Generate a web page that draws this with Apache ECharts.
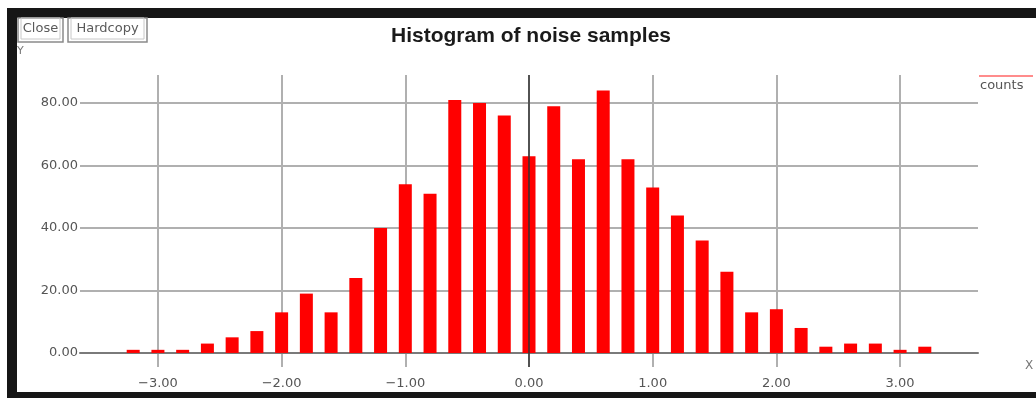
<!DOCTYPE html>
<html>
<head>
<meta charset="utf-8">
<script src="https://cdn.jsdelivr.net/npm/echarts@6/dist/echarts.min.js"></script>
<style>
  html, body { margin: 0; padding: 0; background: #fff; }
  #chart { width: 1036px; height: 398px; }
</style>
</head>
<body>
<div id="chart"></div>
<script>
// bin centres of the histogram and their counts
const binCenters = [-3.2, -3.0, -2.8, -2.6, -2.4, -2.2, -2.0, -1.8, -1.6, -1.4, -1.2,
  -1.0, -0.8, -0.6, -0.4, -0.2, 0.0, 0.2, 0.4, 0.6, 0.8,
  1.0, 1.2, 1.4, 1.6, 1.8, 2.0, 2.2, 2.4, 2.6, 2.8, 3.0, 3.2];
const counts = [1, 1, 1, 3, 5, 7, 13, 19, 13, 24, 40,
  54, 51, 81, 80, 76, 63, 79, 62, 84, 62,
  53, 44, 36, 26, 13, 14, 8, 2, 3, 3, 1, 2];
const xTicks = [-3, -2, -1, 0, 1, 2, 3];
const yTicks = [0, 20, 40, 60, 80];

const LABEL_FONT = "DejaVu Sans";
const GRID_COLOR = "#b0b0b0";

const chart = echarts.init(document.getElementById("chart"));

function fmt(v) {
  const s = Math.abs(v).toFixed(2);
  return v < 0 ? "\u2212" + s : s;
}

// little push buttons in the top-left corner
function button(x, w, label) {
  return [
    { type: "rect", shape: { x: x, y: 18, width: w, height: 24 }, style: { fill: "#fff", stroke: "#8a8a8a", lineWidth: 1.5 } },
    { type: "rect", shape: { x: x + 3, y: 18, width: w - 6, height: 21 }, style: { fill: "none", stroke: "#c8c8c8", lineWidth: 1 } },
    { type: "text", x: x + w / 2, y: 29, style: { text: label, fill: "#5a5a5a", font: "13px " + LABEL_FONT, textAlign: "center", textVerticalAlign: "middle" } },
  ];
}

chart.setOption({
  animation: false,
  backgroundColor: "#fff",
  title: {
    text: "Histogram of noise samples",
    left: 526,
    textAlign: "center",
    top: 21,
    textStyle: { fontFamily: "Liberation Sans", fontSize: 21, fontWeight: "bold", color: "#1a1a1a" },
  },
  // plot runs a little below zero so the vertical grid pokes out under the axis
  grid: { left: 80, right: 58, top: 75, bottom: 31, outerBoundsMode: "none" },
  xAxis: {
    type: "value",
    min: -3.63,
    max: 3.63,
    axisLine: { onZero: true, lineStyle: { color: "#7a7a7a", width: 2 } },
    axisTick: { show: false, customValues: xTicks },
    axisLabel: { customValues: xTicks, formatter: fmt, margin: 10, color: "#555", fontFamily: LABEL_FONT, fontSize: 13 },
    splitLine: { show: true, lineStyle: { color: GRID_COLOR, width: 2 } },
  },
  yAxis: {
    type: "value",
    min: -4.5,
    max: 89,
    axisLine: { show: false },
    axisTick: { show: false, customValues: yTicks },
    axisLabel: { customValues: yTicks, formatter: (v) => v.toFixed(2), margin: 2, color: "#555", fontFamily: LABEL_FONT, fontSize: 13 },
    splitLine: { lineStyle: { color: GRID_COLOR, width: 2 } },
  },
  series: [
    {
      name: "counts",
      type: "bar",
      barWidth: 13,
      itemStyle: { color: "#ff0000" },
      data: binCenters.map((x, i) => [x, counts[i]]),
      markLine: {
        silent: true,
        symbol: "none",
        label: { show: false },
        lineStyle: { color: "#333", width: 1.5, type: "solid" },
        data: [{ xAxis: 0 }],
      },
    },
  ],
  graphic: [
    // dark window frame
    { type: "rect", shape: { x: 7, y: 8, width: 1029, height: 10 }, style: { fill: "#161616" } },
    { type: "rect", shape: { x: 7, y: 8, width: 10, height: 390 }, style: { fill: "#161616" } },
    { type: "rect", shape: { x: 7, y: 392, width: 1029, height: 6 }, style: { fill: "#161616" } },
    ...button(18, 45, "Close"),
    ...button(68, 79, "Hardcopy"),
    { type: "text", x: 17, y: 46, style: { text: "Y", fill: "#777", font: "11px " + LABEL_FONT } },
    { type: "text", x: 1025, y: 360, style: { text: "X", fill: "#777", font: "12px " + LABEL_FONT } },
    // legend
    { type: "rect", shape: { x: 979, y: 75, width: 54, height: 2 }, style: { fill: "#ff8c8c" } },
    { type: "text", x: 980, y: 79, style: { text: "counts", fill: "#555", font: "13px " + LABEL_FONT } },
  ],
});
</script>
</body>
</html>
